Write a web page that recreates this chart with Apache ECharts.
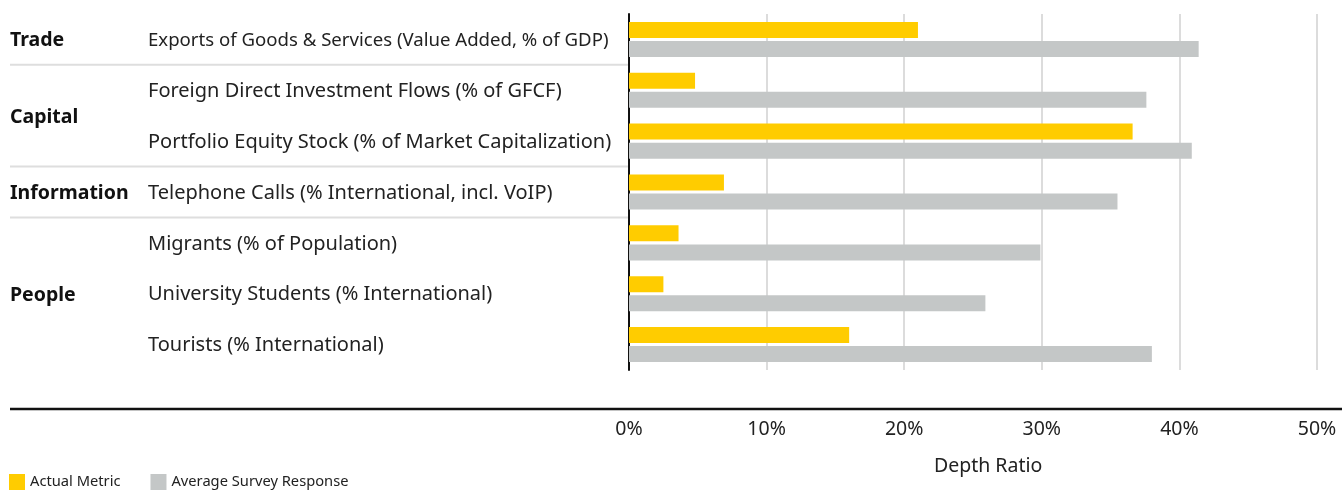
<!DOCTYPE html>
<html>
<head>
<meta charset="utf-8">
<script src="https://cdn.jsdelivr.net/npm/echarts@6/dist/echarts.min.js"></script>
<style>html,body{margin:0;padding:0;background:#fff}#c{width:1342px;height:491px}</style>
</head>
<body>
<div id="c"></div>
<script>
const categories = [
  "Exports of Goods & Services (Value Added, % of GDP)",
  "Foreign Direct Investment Flows (% of GFCF)",
  "Portfolio Equity Stock (% of Market Capitalization)",
  "Telephone Calls (% International, incl. VoIP)",
  "Migrants (% of Population)",
  "University Students (% International)",
  "Tourists (% International)"
];
const groups = [
  { name: "Trade", first: 0, last: 0 },
  { name: "Capital", first: 1, last: 2 },
  { name: "Information", first: 3, last: 3 },
  { name: "People", first: 4, last: 6 }
];
const actualMetric = [21.0, 4.8, 36.6, 6.9, 3.6, 2.5, 16.0];
const surveyResponse = [41.4, 37.6, 40.9, 35.5, 29.9, 25.9, 38.0];
const xTicks = [0, 10, 20, 30, 40, 50];

const FONT = '"Noto Sans"';
const chart = echarts.init(document.getElementById('c'), null, { renderer: 'canvas' });
const option = {
  animation: false,
  textStyle: { fontFamily: FONT },
  grid: { left: 629, right: 25, top: 14, bottom: 121, containLabel: false },
  legend: {
    left: 9, top: 474, padding: 0, itemWidth: 16, itemHeight: 16, itemGap: 30,
    icon: 'rect',
    textStyle: { fontFamily: FONT, fontSize: 14.7, color: '#222', padding: [3, 0, 0, 0] },
    data: ['Actual Metric', 'Average Survey Response']
  },
  xAxis: {
    type: 'value', min: xTicks[0], max: xTicks[xTicks.length - 1], interval: 10,
    axisLine: { show: false }, axisTick: { show: false },
    splitLine: { show: true, lineStyle: { color: '#dcdcdc', width: 2 } },
    axisLabel: { margin: 49, fontSize: 19.5, color: '#222', fontFamily: FONT, formatter: v => v + '%' }
  },
  yAxis: {
    type: 'category', inverse: true, data: categories,
    axisLine: { show: true, lineStyle: { color: '#111', width: 2 } },
    axisTick: { show: false },
    axisLabel: {
      align: 'left', margin: 481, color: '#222', fontFamily: FONT,
      formatter: (v, i) => (i === 0 ? '{n|' + v + '}' : '{w|' + v + '}'),
      rich: {
        n: { fontSize: 18.6, fontFamily: FONT, color: '#222', padding: [2, 0, 0, 0] },
        w: { fontSize: 20, fontFamily: FONT, color: '#222', padding: [2, 0, 0, 0] }
      }
    }
  },
  series: [
    { name: 'Actual Metric', type: 'bar', data: actualMetric, barWidth: 16, barGap: '19%',
      itemStyle: { color: '#FFCC00' } },
    { name: 'Average Survey Response', type: 'bar', data: surveyResponse, barWidth: 16,
      itemStyle: { color: '#C4C7C7' } }
  ]
};
chart.setOption(option);

function buildGraphics() {
  const els = [];
  const yOf = i => chart.convertToPixel({ yAxisIndex: 0 }, i);
  groups.forEach((g, gi) => {
    const y = (yOf(g.first) + yOf(g.last)) / 2;
    els.push({ type: 'text', x: 10, y: y + 1.5, style: { text: g.name, font: 'bold 19.5px ' + FONT, fill: '#111', verticalAlign: 'middle' } });
    if (gi > 0) {
      const ys = (yOf(g.first - 1) + yOf(g.first)) / 2;
      els.push({ type: 'line', shape: { x1: 10, y1: ys, x2: 628, y2: ys }, style: { stroke: '#dedede', lineWidth: 2 } });
    }
  });
  els.push({ type: 'line', shape: { x1: 10, y1: 409, x2: 1342, y2: 409 }, style: { stroke: '#111', lineWidth: 2.5 } });
  const xMid = chart.convertToPixel({ xAxisIndex: 0 }, 26.1);
  els.push({ type: 'text', x: xMid, y: 466, style: { text: 'Depth Ratio', font: '19.5px ' + FONT, fill: '#222', align: 'center', verticalAlign: 'middle' } });
  chart.setOption({ graphic: els });
}
buildGraphics();
</script>
</body>
</html>
